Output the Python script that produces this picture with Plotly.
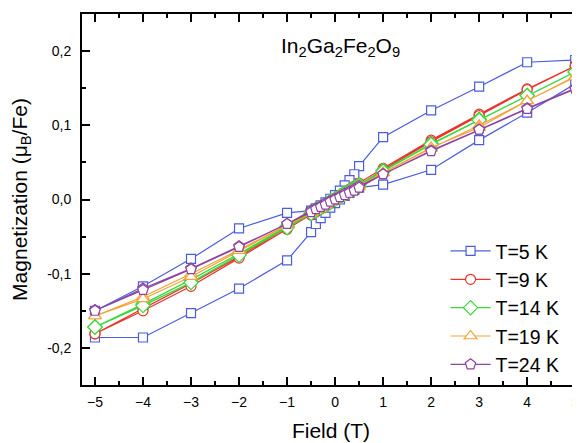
import plotly.graph_objects as go

# Field sweep: descending branch then ascending branch
field_desc = [5, 4, 3, 2, 1, 0.5, 0.4, 0.3, 0.2, 0.1, 0, -0.1, -0.2, -0.3, -0.4, -0.5, -1, -2, -3, -4, -5]
field_asc = field_desc[::-1]

m5_desc = [0.188, 0.185, 0.152, 0.120, 0.084, 0.045, 0.034, 0.026, 0.019, 0.012, 0.006, 0.001, -0.004, -0.008, -0.012, -0.015, -0.018, -0.039, -0.080, -0.117, -0.150]
m5_asc = [-0.186, -0.186, -0.153, -0.120, -0.082, -0.044, -0.033, -0.025, -0.018, -0.011, -0.005, 0.000, 0.005, 0.009, 0.013, 0.016, 0.020, 0.040, 0.080, 0.117, 0.156]

m9_desc = [0.180, 0.149, 0.115, 0.080, 0.042, 0.022, 0.018, 0.014, 0.010, 0.006, 0.002, -0.002, -0.006, -0.010, -0.014, -0.018, -0.038, -0.077, -0.113, -0.147, -0.181]
m9_asc = [-0.181, -0.150, -0.117, -0.079, -0.040, -0.021, -0.017, -0.013, -0.009, -0.005, -0.001, 0.003, 0.007, 0.011, 0.015, 0.019, 0.040, 0.078, 0.113, 0.148, 0.180]

m14_desc = [0.172, 0.140, 0.108, 0.075, 0.039, 0.020, 0.016, 0.012, 0.009, 0.005, 0.001, -0.002, -0.006, -0.010, -0.013, -0.017, -0.036, -0.073, -0.108, -0.141, -0.172]
m14_asc = [-0.172, -0.143, -0.112, -0.075, -0.038, -0.019, -0.015, -0.011, -0.008, -0.004, 0.000, 0.003, 0.007, 0.011, 0.014, 0.018, 0.038, 0.074, 0.107, 0.140, 0.172]

m19_desc = [0.166, 0.133, 0.100, 0.069, 0.036, 0.019, 0.015, 0.012, 0.008, 0.005, 0.001, -0.002, -0.006, -0.009, -0.013, -0.016, -0.034, -0.068, -0.100, -0.131, -0.157]
m19_asc = [-0.157, -0.134, -0.104, -0.069, -0.035, -0.018, -0.014, -0.011, -0.007, -0.004, 0.000, 0.003, 0.006, 0.010, 0.013, 0.017, 0.036, 0.070, 0.097, 0.133, 0.165]

m24_desc = [0.150, 0.123, 0.094, 0.066, 0.034, 0.018, 0.014, 0.011, 0.008, 0.004, 0.001, -0.002, -0.005, -0.009, -0.012, -0.015, -0.033, -0.063, -0.093, -0.120, -0.149]
m24_asc = [-0.150, -0.122, -0.094, -0.064, -0.033, -0.017, -0.013, -0.010, -0.007, -0.003, 0.000, 0.003, 0.006, 0.009, 0.012, 0.016, 0.034, 0.065, 0.094, 0.122, 0.149]

labels = ["T=5 K", "T=9 K", "T=14 K", "T=19 K", "T=24 K"]
colors = ["#4a5ddc", "#e8352c", "#3cd83c", "#f5a236", "#8e43a0"]
symbols = ["square", "circle", "diamond", "triangle-up", "pentagon"]
sizes = [9, 10, 11, 11, 11]
series = [(m5_desc, m5_asc), (m9_desc, m9_asc), (m14_desc, m14_asc), (m19_desc, m19_asc), (m24_desc, m24_asc)]

y_ticks = [-0.2, -0.1, 0.0, 0.1, 0.2]
y_ticktext = ["-0,2", "-0,1", "0,0", "0,1", "0,2"]
x_ticks = [-5, -4, -3, -2, -1, 0, 1, 2, 3, 4, 5]

FONT = "Liberation Sans, Arial"

fig = go.Figure()
for lab, col, sym, sz, (yd, ya) in zip(labels, colors, symbols, sizes, series):
    fig.add_trace(go.Scatter(
        x=field_desc + field_asc, y=yd + ya, mode="lines+markers", name=lab,
        line=dict(color=col, width=1.2),
        marker=dict(symbol=sym, size=sz, color="white", line=dict(color=col, width=1.2)),
    ))

axis_common = dict(
    showline=True, linecolor="black", linewidth=1.8, mirror="allticks",
    ticks="inside", ticklen=8, tickwidth=1.5, tickcolor="black",
    showgrid=False, zeroline=False, automargin=False,
    tickfont=dict(family=FONT, size=14, color="black"),
)

fig.update_xaxes(
    range=[-5.27, 5.10], tickvals=x_ticks,
    minor=dict(ticks="inside", ticklen=4, tickwidth=1.5, dtick=0.5, tick0=0, tickcolor="black"),
    title=dict(text="Field (T)", font=dict(family=FONT, size=21, color="black")),
    ticklabelstandoff=3,
    **axis_common,
)
fig.update_yaxes(
    range=[-0.25, 0.25], tickvals=y_ticks, ticktext=y_ticktext,
    minor=dict(ticks="inside", ticklen=4, tickwidth=1.5, dtick=0.05, tick0=0, tickcolor="black"),
    title=dict(text="Magnetization (μ<sub>B</sub>/Fe)", font=dict(family=FONT, size=21, color="black")),
    ticklabelstandoff=6,
    **axis_common,
)

fig.add_annotation(
    text="In<sub>2</sub>Ga<sub>2</sub>Fe<sub>2</sub>O<sub>9</sub>",
    x=0.52, y=0.91, xref="paper", yref="paper", xanchor="center", yanchor="middle",
    showarrow=False, font=dict(family=FONT, size=21, color="black"),
)

# the page body has an 8 px margin, so the figure is sized and offset to compensate
fig.update_layout(
    width=572, height=435,
    margin=dict(l=74, r=0, t=6, b=58, autoexpand=False),
    paper_bgcolor="white", plot_bgcolor="white",
    font=dict(family=FONT, color="black"),
    legend=dict(
        x=0.73, y=0.413, xanchor="left", yanchor="top",
        bgcolor="rgba(0,0,0,0)", borderwidth=0,
        font=dict(family=FONT, size=19.5, color="black"),
        tracegroupgap=0, itemwidth=40,
    ),
    showlegend=True,
)

fig.write_html("out.html")
